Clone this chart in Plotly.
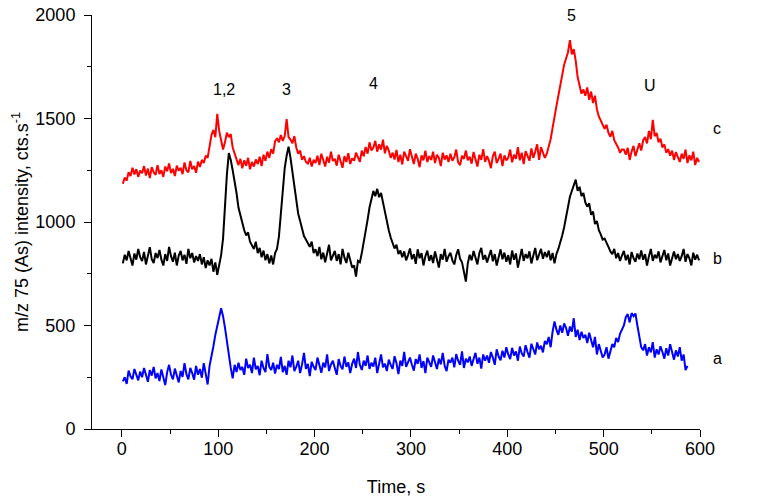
import numpy as np
import plotly.graph_objects as go

# sampling grid of the recorded traces (s)
t_start = 1
t_step = 2

# trace c (red)
c_values = [
    1185, 1215, 1200, 1240, 1222, 1262, 1230, 1255, 1218, 1248,
    1236, 1270, 1225, 1258, 1212, 1265, 1240, 1228, 1275, 1232,
    1250, 1218, 1268, 1245, 1283, 1236, 1257, 1222, 1272, 1248,
    1262, 1231, 1288, 1250, 1240, 1295, 1255, 1270, 1238, 1292,
    1266, 1300, 1285, 1320, 1310, 1372, 1420, 1445, 1410, 1522,
    1440, 1395, 1350, 1385, 1432, 1410, 1425, 1360, 1330, 1295,
    1275, 1305, 1260, 1298, 1272, 1310, 1255, 1290, 1268, 1302,
    1280, 1315, 1270, 1325, 1296, 1340, 1310, 1352, 1330, 1390,
    1405, 1385, 1420, 1392, 1415, 1497, 1410, 1398, 1380, 1415,
    1360, 1330, 1345, 1300, 1318, 1290, 1282, 1310, 1268, 1300,
    1285, 1320, 1275, 1330, 1292, 1268, 1315, 1287, 1340, 1295,
    1305, 1272, 1325, 1298, 1262, 1318, 1290, 1332, 1280, 1308,
    1296, 1335, 1310, 1290, 1345, 1318, 1362, 1330, 1385, 1345,
    1360, 1392, 1340, 1375, 1350, 1398, 1332, 1368, 1345, 1310,
    1335, 1302, 1348, 1290, 1325, 1278, 1340, 1312, 1295, 1352,
    1315, 1280, 1330, 1305, 1265, 1322, 1298, 1345, 1290, 1318,
    1300, 1340, 1285, 1325, 1310, 1270, 1335, 1302, 1322, 1290,
    1330, 1296, 1312, 1350, 1288, 1275, 1320, 1305, 1345, 1298,
    1315, 1282, 1338, 1305, 1268, 1325, 1300, 1352, 1290, 1318,
    1295, 1260, 1318, 1340, 1285, 1305, 1330, 1270, 1322, 1298,
    1310, 1350, 1288, 1325, 1305, 1362, 1298, 1335, 1280, 1342,
    1318, 1296, 1355, 1310, 1340, 1375, 1300, 1362, 1335, 1310,
    1330, 1360, 1400, 1455, 1500, 1560, 1610, 1660, 1720, 1760,
    1790, 1820, 1879, 1810, 1835, 1780, 1700, 1650, 1620, 1640,
    1610, 1650, 1590, 1630, 1575, 1610, 1545, 1510, 1490, 1470,
    1450, 1470, 1430, 1412, 1440, 1395, 1380, 1360, 1335, 1350,
    1350, 1325, 1358, 1300, 1340, 1368, 1318, 1352, 1380, 1345,
    1395, 1410, 1380, 1440, 1400, 1493, 1415, 1430, 1385, 1402,
    1360, 1375, 1335, 1352, 1320, 1345, 1300, 1338, 1312, 1290,
    1330, 1305, 1350, 1285, 1322, 1298, 1340, 1275, 1310, 1290,
]

# trace b (black)
b_values = [
    800, 842, 815, 860, 825, 790, 848, 818, 870, 830,
    812, 855, 795, 840, 878, 820, 802, 850, 826, 865,
    818, 790, 845, 812, 880, 835, 808, 852, 790, 838,
    860, 815, 842, 798, 870, 825, 850, 805, 835, 812,
    845, 795, 830, 778, 815, 790, 822, 760, 805, 745,
    790, 840, 920, 1080, 1230, 1333, 1300, 1250, 1200, 1140,
    1070, 1030, 985, 960, 935, 950, 905, 890, 870, 905,
    850, 875, 830, 862, 815, 845, 800, 838, 795, 850,
    870, 930, 1040, 1150, 1260, 1320, 1364, 1310, 1240, 1170,
    1100, 1040, 1005, 960, 932, 915, 898, 880, 905, 850,
    868, 835, 880, 820, 852, 805, 848, 890, 815, 838,
    860, 812, 845, 795, 870, 828, 802, 852, 818, 780,
    790, 736, 812, 805, 850, 900, 960, 1010, 1070, 1110,
    1150, 1125, 1160, 1120, 1140, 1095, 1045, 1010, 960, 925,
    900, 872, 890, 845, 862, 830, 858, 815, 840, 872,
    820, 845, 798, 868, 825, 850, 790, 835, 862, 812,
    840, 802, 858, 825, 780, 845, 818, 870, 808, 835,
    852, 815, 795, 840, 868, 822, 805, 760, 712, 800,
    842, 815, 860, 828, 795, 850, 875, 818, 840, 805,
    832, 865, 810, 845, 790, 838, 868, 820, 852, 808,
    840, 795, 862, 818, 848, 780, 835, 870, 812, 845,
    825, 858, 800, 840, 875, 815, 848, 870, 822, 855,
    830, 862, 815, 850, 800, 845, 870, 900, 935, 975,
    1020, 1080, 1122, 1150, 1180, 1205, 1150, 1170, 1125, 1140,
    1095, 1074, 1090, 1035, 1050, 990, 1005, 960, 940, 915,
    920, 895, 880, 858, 845, 870, 825, 850, 812, 838,
    860, 815, 842, 795, 855, 825, 808, 848, 820, 862,
    818, 845, 790, 835, 870, 812, 842, 825, 858, 805,
    838, 865, 815, 848, 790, 832, 858, 820, 845, 812,
    835, 870, 808, 845, 825, 790, 852, 818, 842, 815,
]

# trace a (blue)
a_values = [
    230, 250, 218, 282, 255, 240, 290, 262, 235, 278,
    250, 295, 262, 228, 285, 258, 300, 245, 270, 232,
    288, 255, 212, 275, 310, 262, 240, 292, 258, 225,
    280, 252, 318, 265, 240, 295, 270, 238, 305, 262,
    290, 248, 318, 275, 215, 305, 345, 400, 455, 505,
    540, 583, 545, 490, 420, 340, 295, 245, 310, 275,
    320, 285, 300, 262, 340, 295, 310, 270, 345, 288,
    305, 260, 330, 295, 275, 362, 300, 285, 320, 268,
    310, 290, 348, 275, 305, 262, 330, 298, 355, 280,
    300, 330, 270, 312, 368, 290, 315, 255, 325, 300,
    285, 345, 305, 272, 320, 298, 360, 280, 312, 330,
    295, 262, 338, 305, 288, 350, 300, 322, 270, 315,
    340, 295, 372, 310, 285, 330, 305, 355, 290, 320,
    302, 345, 270, 325, 360, 298, 315, 280, 335, 310,
    290, 352, 318, 265, 330, 305, 372, 300, 325, 345,
    310, 282, 338, 315, 360, 295, 328, 270, 345, 318,
    300, 355, 325, 290, 340, 312, 368, 305, 280, 335,
    320, 345, 298, 362, 330, 310, 375, 295, 340, 322,
    350, 305, 338, 368, 315, 345, 292, 360, 330, 355,
    320, 372, 345, 310, 385, 350, 332, 378, 345, 395,
    360, 338, 392, 355, 375, 330, 398, 365, 350, 405,
    372, 345, 412, 380, 360, 418, 385, 402, 370, 425,
    410, 445, 395, 470, 520, 480, 455, 500, 465, 510,
    488, 450, 495, 470, 535, 445, 480, 430, 470, 440,
    455, 415, 465, 430, 395, 445, 360, 410, 375, 345,
    360, 395, 340, 380, 410, 395, 440, 420, 460, 480,
    500, 540, 555, 515, 560, 545, 558, 500, 440, 395,
    380, 410, 355, 395, 370, 420, 345, 385, 360, 400,
    372, 340, 390, 355, 410, 365, 335, 380, 350, 395,
    330, 360, 285, 305,
]

x_tick_vals = [0, 100, 200, 300, 400, 500, 600]
y_tick_vals = [0, 500, 1000, 1500, 2000]

peak_labels = ["1,2", "3", "4", "5", "U"]
peak_label_x = [106, 171, 261, 467, 548]
peak_label_y = [1640, 1640, 1668, 2000, 1658]

trace_labels = ["c", "b", "a"]
trace_label_y = [1450, 826, 343]


def times(values):
    return t_start + t_step * np.arange(len(values))


FONT = "Liberation Sans, Arial, sans-serif"

fig = go.Figure()
for vals, color in [(a_values, "#0000ff"), (b_values, "#000000"), (c_values, "#ff0000")]:
    fig.add_trace(go.Scatter(x=times(vals), y=vals, mode="lines",
                             line=dict(color=color, width=2),
                             showlegend=False, hoverinfo="skip"))

for txt, x, y in zip(peak_labels, peak_label_x, peak_label_y):
    fig.add_annotation(x=x, y=y, text=txt, showarrow=False,
                       xref="x", yref="y", xanchor="center", yanchor="middle",
                       font=dict(family=FONT, size=16, color="black"))
for txt, y in zip(trace_labels, trace_label_y):
    fig.add_annotation(x=1.028, y=y, text=txt, showarrow=False,
                       xref="paper", yref="y", xanchor="center", yanchor="middle",
                       font=dict(family=FONT, size=16, color="black"))

axis_common = dict(showline=True, linecolor="black", linewidth=1,
                   ticks="outside", ticklen=7, tickwidth=1, tickcolor="black",
                   showgrid=False, zeroline=False,
                   tickfont=dict(family=FONT, size=18, color="black"))

fig.update_xaxes(range=[-31, 600], tickvals=x_tick_vals, ticklabelstandoff=-4,
                 minor=dict(dtick=50, tick0=0, ticks="outside", ticklen=4, tickcolor="black", showgrid=False),
                 title=dict(text="Time, s", font=dict(family=FONT, size=18, color="black"), standoff=22),
                 **axis_common)
fig.update_yaxes(range=[0, 2000], tickvals=y_tick_vals, ticklabelstandoff=5,
                 minor=dict(dtick=250, tick0=0, ticks="outside", ticklen=4, tickcolor="black", showgrid=False),
                 title=dict(text="m/z 75 (As) intensity, cts.s<sup>-1</sup>",
                            font=dict(family=FONT, size=18, color="black"), standoff=2),
                 **axis_common)

fig.update_layout(width=762, height=503,
                  margin=dict(l=92, r=62, t=15, b=74, autoexpand=False),
                  paper_bgcolor="white", plot_bgcolor="white")

# remove the default page margin so the figure fills the window exactly
fig.write_html("out.html", config={"displayModeBar": False},
               post_script="document.body.style.margin='0';")
